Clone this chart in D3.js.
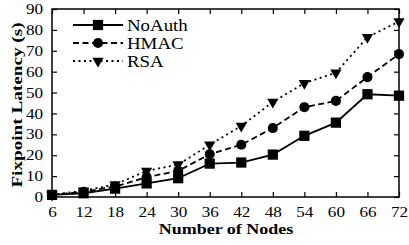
<!DOCTYPE html>
<html>
<head>
<meta charset="utf-8">
<script src="https://cdn.jsdelivr.net/npm/d3@7"></script>
<style>
body { margin: 0; background: #fff; }
text { font-family: "Liberation Serif", "Times New Roman", serif; fill: #000; }
</style>
</head>
<body>
<div id="chart"></div>
<script>
var width = 409;
var height = 245;

// data
var nodes = [6, 12, 18, 24, 30, 36, 42, 48, 54, 60, 66, 72];
var noAuth = [1, 1.8, 4, 6.5, 9, 16, 16.5, 20.3, 29.3, 35.6, 49.2, 48.5];
var hmac = [1, 2.5, 5, 9.5, 12.5, 20.5, 25, 33, 43, 46, 57.4, 68.4];
var rsa = [1, 3, 6, 12.5, 15.5, 25, 34, 45.5, 54.5, 59.5, 76.5, 84];
var yTicks = [0, 10, 20, 30, 40, 50, 60, 70, 80, 90];
var seriesNames = ["NoAuth", "HMAC", "RSA"];

var margin = {left: 52, right: 10, top: 9, bottom: 48};
var stretch = 1.18; // the original text looks wider than plain Times

var x = d3.scaleLinear().domain([6, 72]).range([margin.left, width - margin.right]);
var y = d3.scaleLinear().domain([0, 90]).range([height - margin.bottom, margin.top]);

var svg = d3.select("#chart").append("svg")
	.attr("width", width)
	.attr("height", height);

// widen a text horizontally around its own x anchor
function widen(sel, s) {
	sel.attr("transform", function () {
		var tx = +d3.select(this).attr("x") || 0;
		return "translate(" + tx + ",0) scale(" + s + ",1) translate(" + (-tx) + ",0)";
	});
}

var series = [
	{name: seriesNames[0], values: noAuth, dash: null, marker: d3.symbolSquare, size: 105},
	{name: seriesNames[1], values: hmac, dash: "6,3.5", marker: d3.symbolCircle, size: 80},
	{name: seriesNames[2], values: rsa, dash: "2,3.5", marker: d3.symbolTriangle, size: 55, flip: true}
];

// axes, ticks inward
var bottomAxis = d3.axisBottom(x).tickValues(nodes).tickSize(-5).tickPadding(10);
var leftAxis = d3.axisLeft(y).tickValues(yTicks).tickSize(-5).tickPadding(9);
var topAxis = d3.axisTop(x).tickValues(nodes).tickSize(-5).tickFormat("");
var rightAxis = d3.axisRight(y).tickValues(yTicks).tickSize(-5).tickFormat("");

function styleAxis(g) {
	g.select(".domain").remove();
	g.selectAll("line").attr("stroke", "#000").attr("stroke-width", 1.2);
	g.selectAll("text").style("font-size", "14.5px").attr("font-family", null).call(widen, stretch);
}

svg.append("g").attr("transform", "translate(0," + y(0) + ")").call(bottomAxis).call(styleAxis);
svg.append("g").attr("transform", "translate(" + margin.left + ",0)").call(leftAxis).call(styleAxis);
svg.append("g").attr("transform", "translate(0," + margin.top + ")").call(topAxis).call(styleAxis);
svg.append("g").attr("transform", "translate(" + (width - margin.right) + ",0)").call(rightAxis).call(styleAxis);

svg.append("rect")
	.attr("x", margin.left)
	.attr("y", margin.top)
	.attr("width", width - margin.left - margin.right)
	.attr("height", height - margin.top - margin.bottom)
	.attr("fill", "none")
	.attr("stroke", "#000")
	.attr("stroke-width", 1.5);

var line = d3.line()
	.x(function (d, i) { return x(nodes[i]); })
	.y(function (d) { return y(d); });

series.forEach(function (s) {
	svg.append("path")
		.attr("d", line(s.values))
		.attr("fill", "none")
		.attr("stroke", "#000")
		.attr("stroke-width", 1.8)
		.attr("stroke-dasharray", s.dash);

	svg.selectAll(null)
		.data(s.values)
		.enter()
		.append("path")
		.attr("d", d3.symbol().type(s.marker).size(s.size))
		.attr("transform", function (d, i) {
			return "translate(" + x(nodes[i]) + "," + y(d) + ")" + (s.flip ? " rotate(180)" : "");
		})
		.attr("fill", "#000");
});

// legend
var legend = svg.append("g");
series.forEach(function (s, i) {
	var ly = 25 + i * 18;
	legend.append("line")
		.attr("x1", 73).attr("x2", 123)
		.attr("y1", ly).attr("y2", ly)
		.attr("stroke", "#000")
		.attr("stroke-width", 1.8)
		.attr("stroke-dasharray", s.dash);
	legend.append("path")
		.attr("d", d3.symbol().type(s.marker).size(s.size))
		.attr("transform", "translate(98," + ly + ")" + (s.flip ? " rotate(180)" : ""))
		.attr("fill", "#000");
	legend.append("text")
		.attr("x", 127)
		.attr("y", ly)
		.attr("dy", "0.35em")
		.style("font-size", "16px")
		.text(s.name)
		.call(widen, stretch);
});

// axis titles
svg.append("text")
	.attr("x", 226)
	.attr("y", 234)
	.attr("text-anchor", "middle")
	.style("font-size", "15px")
	.style("font-weight", "bold")
	.text("Number of Nodes")
	.call(widen, 1.2);

svg.append("text")
	.attr("transform", "translate(17,105) rotate(-90) scale(1.28,1)")
	.attr("text-anchor", "middle")
	.attr("dy", "0.35em")
	.style("font-size", "15px")
	.style("font-weight", "bold")
	.text("Fixpoint Latency (s)");
</script>
</body>
</html>
